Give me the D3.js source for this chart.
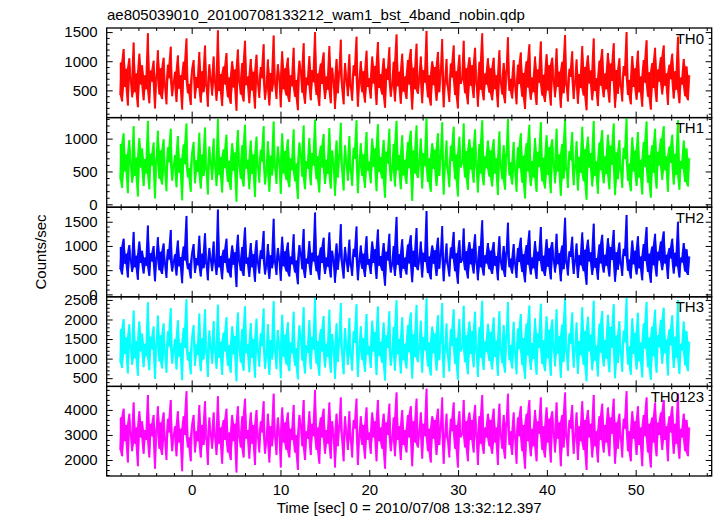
<!DOCTYPE html>
<html>
<head>
<meta charset="utf-8">
<script src="https://cdn.jsdelivr.net/npm/d3@7"></script>
<style>
  html, body { margin: 0; padding: 0; background: #ffffff; }
  svg { display: block; font-family: "Liberation Sans", Arial, Helvetica, sans-serif; }
</style>
</head>
<body>
<script>
// ---------------- data ----------------
const titleText = "ae805039010_20100708133212_wam1_bst_4band_nobin.qdp";
const xLabelText = "Time [sec] 0 = 2010/07/08 13:32:12.397";
const yLabelText = "Counts/sec";
const seriesNames = ["TH0", "TH1", "TH2", "TH3", "TH0123"];
const seriesColors = ["#ff0000", "#00ff00", "#0000ff", "#00ffff", "#ff00ff"];
const timeStart = -8.1;   // seconds
const timeEnd = 56.1;
const xTickLabels = [0, 10, 20, 30, 40, 50];

const th0 = [
 420,980,310,1210,560,870,240,1050,690,380,1320,470,790,210,1130,600,930,330,760,520,
 1480,280,840,650,1010,190,720,1190,430,880,350,1060,570,260,940,710,1250,400,620,820,
 300,1100,530,760,170,990,680,1390,450,610,250,870,1020,360,730,540,1160,290,830,470,
 1270,580,220,950,700,410,1080,640,320,1530,490,780,230,910,600,1140,380,720,270,1000,
 550,860,150,1200,660,430,970,310,1350,590,740,280,1040,500,820,190,1110,630,370,900,
 710,1290,340,560,1030,240,800,480,1440,620,350,950,700,210,1170,520,880,410,1060,300,
 760,570,1230,390,680,160,1010,840,460,1310,270,720,590,1090,330,850,640,1500,420,790,
 230,960,610,1150,350,740,510,1260,280,890,670,180,1040,450,810,1370,530,260,970,690,
 400,1120,580,320,930,750,1420,220,650,1000,470,830,290,1180,560,710,360,1080,620,920,
 250,1330,540,780,430,1050,200,870,680,1240,390,610,990,310,1460,570,820,270,1130,480,
 740,350,1020,600,1210,170,890,520,1300,440,700,1080,280,850,630,1520,380,760,240,1000,
 590,900,320,1160,470,810,1380,210,660,1040,540,300,960,720,1270,420,830,190,1110,610,
 700,1350,450,880,260,1070,580,930,370,1230,640,220,990,510,1480,330,790,600,1050,460,
 880,330,1060,520,760,210,1190,640,430,970,280,820,1410,490,700,360,1020,580,260,940,
 610,1150,390,800,180,1000,550,1290,340,720,470,1080,250,860,630,1340,410,770,300,1120,
 500,930,240,1060,680,380,1220,560,820,200,990,450,1450,600,310,870,730,1170,350,650,
 1030,270,780,540,1260,410,900,160,1100,620,840,330,1390,490,710,230,1010,580,1210,380,
 790,520,1140,290,960,660,1310,200,850,440,1050,590,310,920,750,1500,420,680,260,1090,
 560,880,340,1180,470,740,220,1020,630,1360,390,810,170,970,540,1230,300,860,650,1070,
 430,1270,580,790,250,940,690,1130,360,830,510,1420,280,720,600,1040,400,910,330,760
];
const th1 = [
 380,920,250,1080,500,760,170,980,620,330,1190,430,710,120,1010,560,850,280,690,470,
 1270,230,770,590,940,90,660,1120,390,820,300,990,520,200,870,640,1150,360,570,750,
 260,1040,480,700,60,910,610,1230,410,550,190,800,950,320,670,490,1090,240,760,430,
 1170,530,150,880,640,370,1000,590,280,1300,450,720,180,840,550,1060,340,660,220,930,
 510,790,40,1130,600,390,900,270,1210,540,680,230,970,460,760,110,1030,580,330,830,
 650,1190,300,510,960,190,740,440,1260,570,310,880,640,160,1080,470,810,370,990,260,
 700,520,1140,350,620,80,940,770,420,1200,230,660,540,1010,290,780,590,1290,380,730,
 180,890,560,1070,310,680,460,1160,240,820,610,130,970,410,740,1240,490,210,900,630,
 360,1040,530,280,860,690,1280,170,600,930,430,760,250,1100,510,650,320,1000,570,850,
 200,1220,490,720,390,980,100,800,620,1150,350,560,920,270,1270,520,750,230,1050,440,
 680,310,950,550,1120,50,820,470,1200,400,640,1000,240,780,580,1310,340,700,190,930,
 540,830,280,1080,430,740,1250,150,610,970,490,260,890,660,1180,380,760,120,1030,560,
 640,1230,410,810,220,990,530,860,330,1140,590,180,920,470,1280,290,730,550,970,420,
 820,270,990,470,700,140,1110,580,380,900,220,760,1300,440,640,300,950,520,190,870,
 550,1080,330,740,90,930,500,1210,280,660,410,1010,190,800,570,1250,350,710,240,1050,
 450,870,170,990,620,320,1150,500,760,130,920,390,1290,540,250,810,670,1100,290,590,
 960,210,720,480,1180,350,840,70,1030,560,780,270,1270,430,650,160,940,520,1130,320,
 730,460,1060,230,890,600,1230,140,790,380,980,530,250,860,690,1310,360,620,200,1020,
 500,820,280,1100,410,680,150,950,570,1260,330,750,100,900,480,1150,240,800,590,1000,
 370,1190,520,730,190,880,630,1060,300,770,450,1280,220,660,540,970,340,850,270,700
];
const th2 = [
 520,980,410,1150,630,840,350,1020,710,460,1290,560,800,300,1090,650,900,430,760,590,
 1420,380,850,680,1000,270,740,1180,500,880,420,1050,620,340,930,720,1330,470,660,830,
 390,1110,580,770,230,990,700,1620,520,640,330,870,1040,440,750,600,1210,370,840,540,
 1260,640,290,960,720,480,1090,670,400,1750,560,790,310,920,650,1150,450,740,350,1010,
 610,870,150,1230,690,490,980,380,1380,630,760,360,1060,560,830,260,1120,660,430,910,
 730,1310,410,600,1040,320,810,540,1560,660,400,960,720,280,1190,580,890,470,1070,370,
 780,620,1240,450,700,210,1020,850,520,1350,340,740,630,1100,400,860,680,1690,480,800,
 300,970,650,1170,420,760,570,1280,350,900,700,240,1050,510,820,1450,590,330,980,710,
 460,1130,620,380,940,770,1400,290,680,1010,530,840,360,1200,610,730,420,1090,650,930,
 320,1340,590,790,490,1060,180,880,700,1250,450,640,1000,380,1600,610,830,340,1140,530,
 760,410,1030,640,1220,250,900,570,1370,500,720,1090,350,860,670,1720,440,780,310,1010,
 630,910,380,1170,530,820,1410,270,690,1050,590,370,970,740,1290,480,850,220,1120,650,
 720,1360,500,890,330,1080,620,940,430,1240,670,290,1000,560,1530,390,810,640,1060,520,
 900,420,1080,590,790,290,1200,680,500,1000,360,850,1480,560,740,430,1040,630,340,960,
 670,1170,460,830,250,1020,610,1320,410,760,540,1100,320,880,690,1390,480,800,380,1140,
 570,950,310,1080,720,450,1250,620,850,270,1010,520,1580,660,390,890,770,1190,420,700,
 1050,340,810,600,1280,480,920,200,1130,680,870,400,1460,550,750,300,1030,640,1230,450,
 820,590,1160,370,980,710,1330,260,870,510,1070,650,380,940,790,1640,490,720,330,1110,
 620,900,410,1200,540,780,290,1040,690,1390,460,840,240,990,600,1250,370,880,700,1090,
 500,1300,640,820,320,960,740,1150,430,860,580,1500,350,760,660,1060,470,930,400,780
];
const th3 = [
 900,1750,760,2010,1120,1540,620,1880,1290,840,2230,1010,1450,560,1950,1190,1640,780,1380,1060,
 2440,700,1560,1230,1820,480,1340,2100,930,1600,750,1900,1130,640,1700,1310,2290,870,1200,1500,
 720,1980,1050,1400,450,1790,1270,2520,950,1160,600,1580,1860,810,1360,1090,2150,680,1520,980,
 2260,1170,530,1720,1310,870,1960,1210,740,2380,1020,1430,580,1670,1180,2060,820,1340,640,1830,
 1110,1580,420,2180,1250,900,1760,690,2340,1140,1370,650,1910,1020,1500,510,2020,1200,790,1650,
 1320,2280,740,1090,1880,580,1470,980,2470,1200,730,1730,1300,500,2120,1050,1610,850,1930,680,
 1410,1130,2200,820,1270,470,1850,1540,950,2310,620,1340,1150,1990,730,1560,1230,2560,870,1450,
 560,1750,1180,2090,770,1380,1040,2250,640,1630,1260,480,1900,920,1480,2420,1070,600,1780,1290,
 840,2040,1120,690,1700,1400,2390,530,1230,1830,960,1520,660,2140,1100,1320,760,1970,1180,1680,
 580,2330,1070,1430,890,1920,440,1600,1270,2210,820,1160,1810,690,2490,1110,1500,620,2060,960,
 1380,750,1860,1160,2180,490,1620,1040,2370,910,1300,1970,640,1550,1210,2540,800,1410,570,1820,
 1140,1640,690,2110,960,1480,2420,510,1250,1900,1070,670,1750,1320,2260,870,1530,460,2010,1180,
 1300,2350,910,1600,600,1950,1120,1700,780,2200,1220,530,1800,1020,2480,710,1440,1170,1890,940,
 1680,720,2050,1040,1460,560,2210,1230,880,1860,640,1560,2450,960,1350,750,1940,1160,600,1770,
 1240,2140,830,1530,480,1900,1080,2360,710,1400,990,2030,590,1640,1270,2400,860,1470,680,2080,
 1010,1740,560,2000,1300,800,2260,1130,1570,510,1870,920,2530,1200,690,1650,1380,2180,770,1250,
 1920,610,1450,1090,2310,840,1700,420,2070,1190,1610,700,2480,950,1330,540,1890,1150,2220,800,
 1480,1000,2120,650,1810,1280,2390,500,1590,890,1960,1160,660,1720,1420,2550,850,1310,590,2030,
 1120,1660,720,2170,930,1410,520,1900,1250,2450,780,1540,460,1820,1060,2250,640,1600,1290,1990,
 870,2300,1140,1490,570,1750,1340,2110,760,1560,1020,2500,610,1380,1210,1950,830,1700,680,1430
];
const th0123 = [
 2400,3700,2150,4050,2750,3400,1900,3850,3050,2350,4300,2650,3300,1750,3950,2900,3550,2250,3200,2800,
 4600,2100,3450,2950,3800,1650,3150,4150,2450,3500,2200,3900,2800,2000,3650,3100,4400,2350,2950,3350,
 2150,3950,2700,3250,1550,3750,3000,4750,2500,2900,1950,3450,3800,2300,3150,2750,4200,2100,3400,2600,
 4350,2850,1800,3700,3050,2450,3900,2950,2200,4550,2650,3300,1850,3600,2800,4050,2300,3100,2000,3800,
 2750,3450,1500,4150,2950,2500,3750,2100,4450,2850,3200,2050,3900,2650,3400,1800,4000,2950,2300,3550,
 3100,4350,2250,2800,3850,1900,3350,2550,4650,2950,2200,3700,3050,1700,4100,2700,3500,2400,3900,2100,
 3250,2800,4200,2300,3000,1600,3800,3400,2550,4400,2000,3150,2850,3950,2200,3450,2950,4800,2400,3300,
 1850,3700,2900,4050,2250,3200,2650,4300,2050,3550,3000,1700,3850,2550,3350,4500,2750,1950,3750,3050,
 2400,3950,2850,2100,3600,3250,4450,1800,2950,3750,2600,3400,2050,4100,2800,3100,2250,3900,2900,3550,
 1950,4400,2750,3300,2450,3850,1650,3500,3000,4250,2350,2900,3700,2150,4700,2800,3350,2000,4000,2600,
 3200,2300,3800,2900,4150,1750,3550,2700,4450,2500,3100,3900,2050,3450,2950,4850,2350,3250,1900,3750,
 2850,3600,2200,4050,2600,3300,4500,1850,3000,3850,2750,2100,3650,3150,4300,2450,3400,1700,3950,2900,
 3050,4400,2500,3550,1950,3900,2800,3600,2300,4200,3000,1800,3750,2650,4600,2250,3300,2900,3850,2550,
 3600,2250,4050,2700,3300,1800,4250,3000,2450,3800,2050,3450,4650,2600,3150,2200,3900,2900,1850,3700,
 2950,4150,2350,3400,1650,3850,2750,4400,2150,3250,2550,4000,1950,3550,3050,4500,2400,3350,2100,4100,
 2700,3650,1900,3950,3100,2300,4300,2850,3500,1750,3800,2500,4700,2950,2150,3600,3250,4200,2250,3000,
 3900,2000,3350,2750,4350,2400,3600,1600,4000,2900,3450,2100,4600,2550,3150,1900,3750,2800,4250,2300,
 3400,2700,4100,2150,3700,3050,4450,1850,3500,2450,3850,2900,2100,3650,3250,4750,2350,3150,1950,3950,
 2850,3550,2200,4150,2600,3300,1750,3800,2950,4500,2300,3450,1700,3700,2700,4300,2150,3500,3000,3900,
 2400,4400,2800,3350,1950,3750,3100,4150,2250,3450,2650,4650,2050,3250,2900,3850,2350,3600,2150,3300
];
const seriesValues = [th0, th1, th2, th3, th0123];

// y ranges and tick marks for each panel
const yDomains = [[33, 1570], [-44, 1320], [-50, 1800], [290, 2580], [1360, 4940]];
const yMajorTicks = [
  [500, 1000, 1500],
  [0, 500, 1000],
  [0, 500, 1000, 1500],
  [500, 1000, 1500, 2000, 2500],
  [2000, 3000, 4000]
];
const yMinorSteps = [100, 100, 100, 100, 200];

// ---------------- layout ----------------
const W = 717, H = 516;
const frameL = 106.7, frameR = 711.7, frameT = 28, frameB = 476;
const nP = seriesNames.length;
const panelH = (frameB - frameT) / nP;

const svg = d3.select("body").append("svg")
  .attr("width", W).attr("height", H);

const x = d3.scaleLinear().domain([-9.57, 58.56]).range([frameL, frameR]);
const xMajor = xTickLabels;
const xMinor = d3.range(-8, 59, 2).filter(v => v % 10 !== 0);

const defs = svg.append("defs");

seriesNames.forEach((name, i) => {
  const top = frameT + i * panelH;
  const bot = top + panelH;
  const y = d3.scaleLinear().domain(yDomains[i]).range([bot, top]);
  const vals = seriesValues[i];
  const n = vals.length;
  const tOf = j => timeStart + j * (timeEnd - timeStart) / (n - 1);

  defs.append("clipPath").attr("id", "clip" + i)
    .append("rect").attr("x", frameL).attr("y", top)
    .attr("width", frameR - frameL).attr("height", panelH);

  const g = svg.append("g");
  const dg = g.append("g").attr("clip-path", "url(#clip" + i + ")");

  // the dense light curve: fill the vertical sweep between consecutive samples
  const sweep = d3.area()
    .x((d, j) => x(tOf(j)))
    .y0((d, j) => y(Math.min(d, vals[Math.min(j + 1, n - 1)])))
    .y1((d, j) => y(Math.max(d, vals[Math.min(j + 1, n - 1)])));
  dg.append("path")
    .datum(vals)
    .attr("fill", seriesColors[i])
    .attr("fill-opacity", 0.95)
    .attr("d", sweep);

  const line = d3.line().x((d, j) => x(tOf(j))).y(d => y(d));
  dg.append("path")
    .datum(vals)
    .attr("fill", "none")
    .attr("stroke", seriesColors[i])
    .attr("stroke-width", 0.8)
    .attr("d", line);

  // minor y ticks
  const d0 = yDomains[i][0], d1 = yDomains[i][1], st = yMinorSteps[i];
  const yMinorAll = d3.range(Math.ceil(d0 / st) * st, d1, st)
    .filter(v => !yMajorTicks[i].includes(v));

  // left axis (major, labels)
  const axL = g.append("g").attr("transform", `translate(${frameL},0)`)
    .call(d3.axisLeft(y).tickValues(yMajorTicks[i]).tickSize(-6).tickPadding(9).tickFormat(d3.format("d")));
  axL.selectAll("text").attr("font-size", 15).attr("fill", "#000");
  axL.select(".domain").remove();
  const axLm = g.append("g").attr("transform", `translate(${frameL},0)`)
    .call(d3.axisLeft(y).tickValues(yMinorAll).tickSize(-3).tickFormat(""));
  axLm.select(".domain").remove();

  // right axis
  const axR = g.append("g").attr("transform", `translate(${frameR},0)`)
    .call(d3.axisRight(y).tickValues(yMajorTicks[i]).tickSize(-6).tickFormat(""));
  axR.select(".domain").remove();
  const axRm = g.append("g").attr("transform", `translate(${frameR},0)`)
    .call(d3.axisRight(y).tickValues(yMinorAll).tickSize(-3).tickFormat(""));
  axRm.select(".domain").remove();

  // top & bottom x ticks
  const axT = g.append("g").attr("transform", `translate(0,${top})`)
    .call(d3.axisTop(x).tickValues(xMajor).tickSize(-6).tickFormat(""));
  axT.select(".domain").remove();
  const axTm = g.append("g").attr("transform", `translate(0,${top})`)
    .call(d3.axisTop(x).tickValues(xMinor).tickSize(-3).tickFormat(""));
  axTm.select(".domain").remove();

  const axB = g.append("g").attr("transform", `translate(0,${bot})`)
    .call(d3.axisBottom(x).tickValues(xMajor).tickSize(-6).tickPadding(8)
      .tickFormat(i === nP - 1 ? d3.format("d") : ""));
  axB.selectAll("text").attr("font-size", 15).attr("fill", "#000");
  axB.select(".domain").remove();
  const axBm = g.append("g").attr("transform", `translate(0,${bot})`)
    .call(d3.axisBottom(x).tickValues(xMinor).tickSize(-3).tickFormat(""));
  axBm.select(".domain").remove();

  g.selectAll(".tick line").attr("stroke", "#000").attr("stroke-width", 1);

  // frame
  g.append("rect")
    .attr("x", frameL).attr("y", top)
    .attr("width", frameR - frameL).attr("height", panelH)
    .attr("fill", "none").attr("stroke", "#000").attr("stroke-width", 1.3);

  // panel name
  g.append("text")
    .attr("x", 704).attr("y", top + 15.5)
    .attr("text-anchor", "end")
    .attr("font-size", 15)
    .attr("fill", "#000")
    .text(name);
});

// title
svg.append("text")
  .attr("x", 107).attr("y", 19.5)
  .attr("font-size", 15).attr("fill", "#000")
  .text(titleText);

// x label
svg.append("text")
  .attr("x", (frameL + frameR) / 2).attr("y", 513)
  .attr("text-anchor", "middle")
  .attr("font-size", 15).attr("fill", "#000")
  .text(xLabelText);

// y label
svg.append("text")
  .attr("transform", `translate(46,${(frameT + frameB) / 2}) rotate(-90)`)
  .attr("text-anchor", "middle")
  .attr("font-size", 15).attr("fill", "#000")
  .text(yLabelText);
</script>
</body>
</html>
